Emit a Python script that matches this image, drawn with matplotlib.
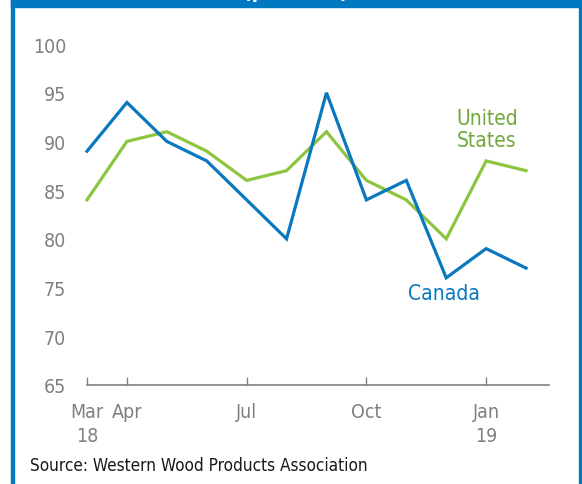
import matplotlib
matplotlib.use("Agg")
import matplotlib.pyplot as plt
from matplotlib.patches import Rectangle

plt.rcParams['font.family'] = ['DejaVu Sans']
plt.rcParams['font.stretch'] = 'condensed'

months = ["Mar 18", "Apr", "May", "Jun", "Jul", "Aug", "Sep", "Oct", "Nov", "Dec", "Jan 19", "Feb"]
canada = [89, 94, 90, 88, 84, 80, 95, 84, 86, 76, 79, 77]
united_states = [84, 90, 91, 89, 86, 87, 91, 86, 84, 80, 88, 87]
tick_months = [0, 1, 4, 7, 10]
tick_labels = ["Mar\n18", "Apr", "Jul", "Oct", "Jan\n19"]
y_ticks = [65, 70, 75, 80, 85, 90, 95, 100]

BLUE = "#0A78BE"
GREEN = "#8CC63F"
GREEN_TEXT = "#72A83C"
GRAY = "#808080"

W, H = 582, 485
fig = plt.figure(figsize=(W / 100, H / 100), dpi=100)

def fx(px):
    return px / W

def fy(py):
    return 1 - py / H

# Blue panel frame: header bar, left and right rules
fig.patches.append(Rectangle((fx(11), fy(8)), fx(582 - 11), 8 / H, transform=fig.transFigure,
                             color="#0079C1", zorder=0))
fig.patches.append(Rectangle((fx(11), 0), fx(3), fy(0), transform=fig.transFigure,
                             color="#0079C1", zorder=0))
fig.patches.append(Rectangle((fx(579), 0), fx(3), fy(0), transform=fig.transFigure,
                             color="#0079C1", zorder=0))
fig.text(fx(296), fy(-2), "(per cent)", color="white", fontsize=15, fontweight="bold",
         ha="center", va="baseline")

ax = fig.add_axes([fx(87), fy(386), fx(549 - 87), (386 - 45) / H])
x = list(range(len(months)))
ax.plot(x, united_states, color=GREEN, lw=2.3, clip_on=False, solid_joinstyle="miter")
ax.plot(x, canada, color=BLUE, lw=2.3, clip_on=False, solid_joinstyle="miter")

ax.set_xlim(0, 11.575)
ax.set_ylim(65, 100)
for s in ["top", "right", "left"]:
    ax.spines[s].set_visible(False)
ax.spines["bottom"].set_color(GRAY)
ax.spines["bottom"].set_linewidth(1.2)

ax.set_xticks(tick_months)
ax.set_xticklabels(tick_labels, fontsize=14, color=GRAY, linespacing=1.3)
ax.set_yticks(y_ticks)
ax.set_yticklabels([str(v) for v in y_ticks], fontsize=14, color=GRAY)
ax.tick_params(axis="x", direction="in", length=6, width=1, color=GRAY, pad=12.5)
ax.tick_params(axis="y", length=0, pad=15)

ax.text(10.02, 91.3, "United\nStates", color=GREEN_TEXT, fontsize=15, ha="center",
        va="center", multialignment="center", linespacing=1.15)
ax.text(8.95, 74.4, "Canada", color=BLUE, fontsize=15, ha="center", va="center")

fig.text(fx(30), fy(466), "Source: Western Wood Products Association", fontsize=12.3,
         color="#1a1a1a", ha="left", va="center")

fig.savefig("out.png", dpi=100)
